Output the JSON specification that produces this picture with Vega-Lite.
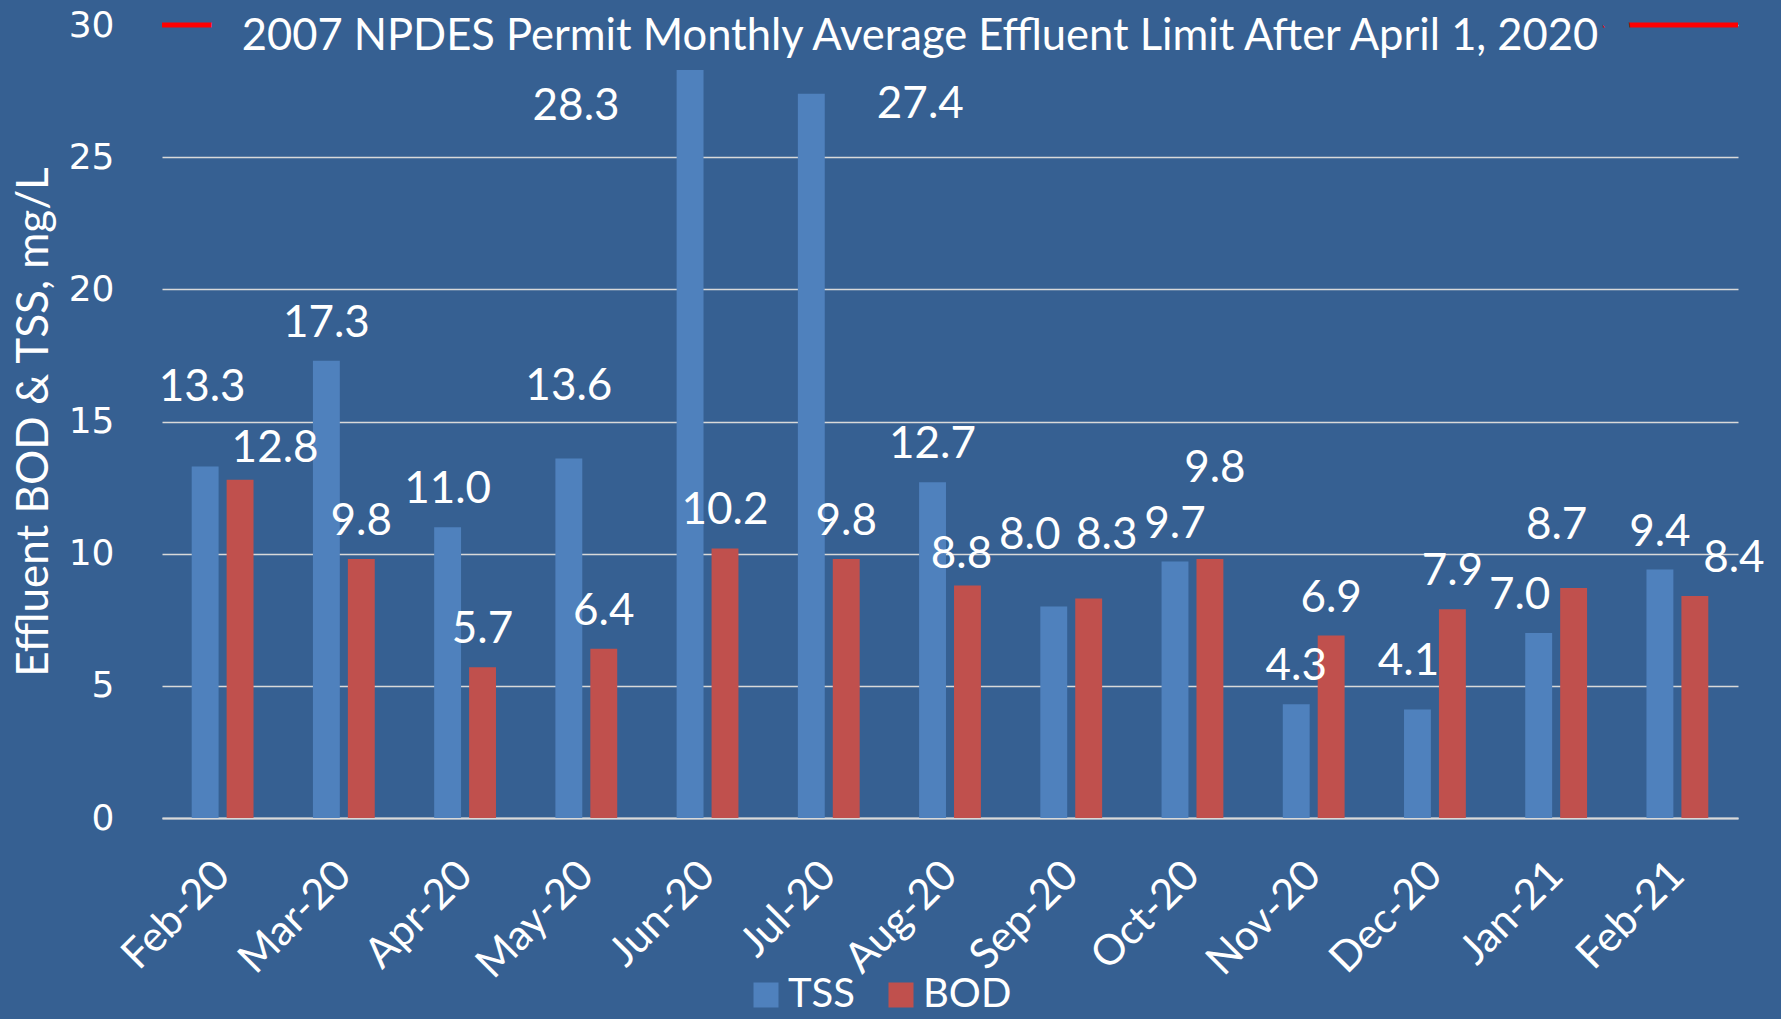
{
  "$schema": "https://vega.github.io/schema/vega-lite/v6.json",
  "width": 1576,
  "height": 793,
  "autosize": {"type": "none"},
  "padding": {"left": 162, "top": 25, "right": 43, "bottom": 201},
  "background": "#366092",
  "config": {"view": {"stroke": null}, "font": "Lato"},
  "datasets": {
    "bars": [
      {"month": "Feb-20", "series": "TSS", "value": 13.3},
      {"month": "Feb-20", "series": "BOD", "value": 12.8},
      {"month": "Mar-20", "series": "TSS", "value": 17.3},
      {"month": "Mar-20", "series": "BOD", "value": 9.8},
      {"month": "Apr-20", "series": "TSS", "value": 11.0},
      {"month": "Apr-20", "series": "BOD", "value": 5.7},
      {"month": "May-20", "series": "TSS", "value": 13.6},
      {"month": "May-20", "series": "BOD", "value": 6.4},
      {"month": "Jun-20", "series": "TSS", "value": 28.3},
      {"month": "Jun-20", "series": "BOD", "value": 10.2},
      {"month": "Jul-20", "series": "TSS", "value": 27.4},
      {"month": "Jul-20", "series": "BOD", "value": 9.8},
      {"month": "Aug-20", "series": "TSS", "value": 12.7},
      {"month": "Aug-20", "series": "BOD", "value": 8.8},
      {"month": "Sep-20", "series": "TSS", "value": 8.0},
      {"month": "Sep-20", "series": "BOD", "value": 8.3},
      {"month": "Oct-20", "series": "TSS", "value": 9.7},
      {"month": "Oct-20", "series": "BOD", "value": 9.8},
      {"month": "Nov-20", "series": "TSS", "value": 4.3},
      {"month": "Nov-20", "series": "BOD", "value": 6.9},
      {"month": "Dec-20", "series": "TSS", "value": 4.1},
      {"month": "Dec-20", "series": "BOD", "value": 7.9},
      {"month": "Jan-21", "series": "TSS", "value": 7.0},
      {"month": "Jan-21", "series": "BOD", "value": 8.7},
      {"month": "Feb-21", "series": "TSS", "value": 9.4},
      {"month": "Feb-21", "series": "BOD", "value": 8.4}
    ],
    "limit": [
      {"name": "2007 NPDES Permit Monthly Average Effluent Limit After April 1, 2020", "value": 30}
    ]
  },
  "layer": [
    {
      "data": {"name": "bars"},
      "mark": {"type": "bar", "opacity": 0},
      "encoding": {
        "x": {
          "field": "month", "type": "ordinal", "sort": null,
          "scale": {"paddingInner": 0.49, "paddingOuter": 0.245},
          "axis": {
            "title": null, "labelAngle": -45, "labelFont": "Lato", "labelFontSize": 42,
            "labelColor": "#FFFFFF", "ticks": false, "domainColor": "#D9D9D9", "domainWidth": 2,
            "labelPadding": 36, "labelOffset": -14, "grid": false
          }
        },
        "y": {
          "field": "value", "type": "quantitative",
          "scale": {"domain": [0, 30], "nice": false},
          "axis": {
            "values": [0, 5, 10, 15, 20, 25, 30],
            "title": "Effluent BOD & TSS, mg/L", "titleFont": "Lato", "titleFontSize": 44,
            "titleFontWeight": "normal", "titleColor": "#FFFFFF", "titlePadding": 12,
            "labelFont": "DejaVu Sans", "labelFontSize": 36, "labelColor": "#FFFFFF",
            "labelPadding": 48, "ticks": false, "domain": false,
            "gridColor": "#D9D9D9", "gridWidth": 1.5
          }
        }
      }
    },
    {
      "data": {"name": "limit"},
      "mark": {"type": "rule", "color": "#FF0000", "strokeWidth": 5},
      "encoding": {"y": {"field": "value", "type": "quantitative"}}
    },
    {
      "data": {"name": "limit"},
      "mark": {"type": "text", "font": "Lato", "fontSize": 43.5, "fill": "#366092", "stroke": "#366092", "strokeWidth": 66, "strokeJoin": "round", "baseline": "middle", "dy": 12, "dx": -30},
      "encoding": {"y": {"field": "value", "type": "quantitative"}, "text": {"field": "name"}}
    },
    {
      "data": {"name": "limit"},
      "mark": {"type": "text", "font": "Lato", "fontSize": 43.5, "fill": "#FFFFFF", "baseline": "middle", "dy": 12, "dx": -30},
      "encoding": {"y": {"field": "value", "type": "quantitative"}, "text": {"field": "name"}}
    },
    {
      "data": {"name": "bars"},
      "mark": {"type": "bar"},
      "encoding": {
        "x": {"field": "month", "type": "ordinal", "sort": null},
        "xOffset": {"field": "series", "type": "nominal", "sort": ["TSS", "BOD"], "scale": {"paddingInner": 0.23}},
        "y": {"field": "value", "type": "quantitative"},
        "color": {
          "field": "series", "type": "nominal",
          "scale": {"domain": ["TSS", "BOD"], "range": ["#4F81BD", "#C0504D"]},
          "legend": {
            "title": null, "orient": "none", "direction": "horizontal",
            "legendX": 584, "legendY": 950,
            "symbolType": "square", "symbolSize": 625, "symbolStrokeWidth": 0,
            "symbolOpacity": 1,
            "labelFont": "Lato", "labelFontSize": 40, "labelColor": "#FFFFFF",
            "labelOffset": 2, "columnPadding": 26
          }
        }
      }
    },
    {
      "data": {"name": "bars"},
      "mark": {
        "type": "text", "font": "Lato", "fontSize": 44, "fill": "#FFFFFF", "baseline": "alphabetic",
        "dx": {"expr": "({'Feb-20|TSS': -3, 'Jun-20|TSS': -114, 'Jul-20|TSS': 109, 'Sep-20|TSS': -24, 'Dec-20|TSS': -9, 'Jan-21|TSS': -19, 'Feb-20|BOD': 35, 'Aug-20|BOD': -6, 'Sep-20|BOD': 18, 'Oct-20|BOD': 5, 'Jan-21|BOD': -17, 'Feb-21|BOD': 39})[datum.month + '|' + datum.series] || 0"},
        "dy": {"expr": "({'Feb-20|TSS': -65, 'May-20|TSS': -59, 'Jun-20|TSS': 50, 'Jul-20|TSS': 24, 'Sep-20|TSS': -58, 'Dec-20|TSS': -35, 'Feb-20|BOD': -18, 'Aug-20|BOD': -17, 'Sep-20|BOD': -50, 'Oct-20|BOD': -77, 'Jan-21|BOD': -49})[datum.month + '|' + datum.series] || -24"}
      },
      "encoding": {
        "x": {"field": "month", "type": "ordinal", "sort": null},
        "xOffset": {"field": "series", "type": "nominal", "sort": ["TSS", "BOD"]},
        "y": {"field": "value", "type": "quantitative"},
        "text": {"field": "value", "type": "quantitative", "format": ".1f"}
      }
    }
  ]
}
